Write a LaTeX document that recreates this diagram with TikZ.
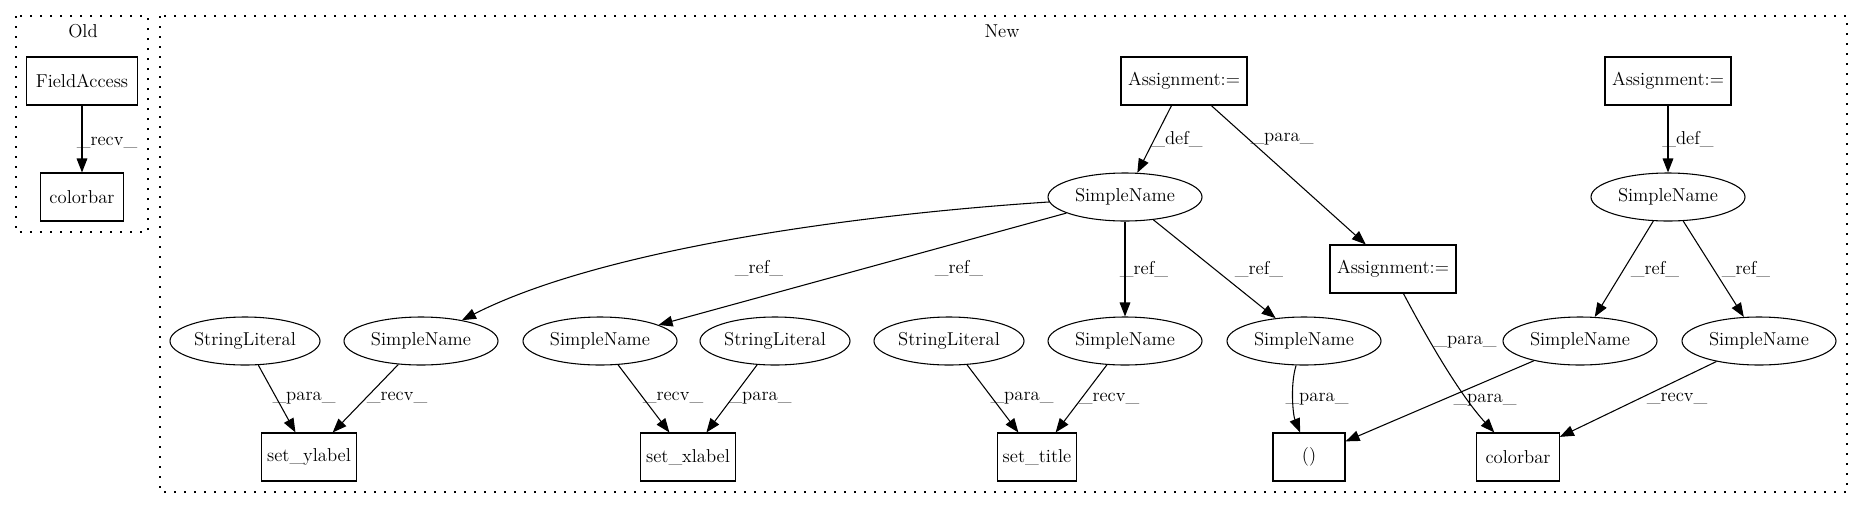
\documentclass[tikz,border=0pt]{standalone}
\usetikzlibrary{arrows.meta,shapes.geometric}
\begin{document}
\begin{tikzpicture}[x=0.75pt,y=-0.75pt,
  font=\rmfamily\fontsize{14}{16}\selectfont,
  box/.style={draw, line width=0.8pt, rectangle, minimum height=36pt, inner sep=0pt},
  oval/.style={draw, line width=0.8pt, ellipse, minimum height=36pt, minimum width=115.5pt, inner sep=0pt},
  sloval/.style={oval, minimum width=112.5pt},
  conn/.style={-{Triangle[length=10.5pt,width=8pt]}, line width=0.8pt},
  lab/.style={inner sep=0pt},
  cluster/.style={line width=1.1pt, dash pattern=on 1.3pt off 6.2pt}]
\useasboundingbox (0,0) rectangle (1863,508);
% clusters
\draw[cluster] (16,16) rectangle (148,232);
\draw[cluster] (160,16) rectangle (1847,492);
\node[lab] (oldlab) at (83,31) {Old};
\node[lab] (newlab) at (1002,31) {New};
% Old
\node[box, minimum width=83pt] (fa) at (82,81) {FieldAccess};
\node[box, minimum width=62pt] (cbold) at (82,197) {colorbar};
% New row 1
\node[box, minimum width=94.5pt] (a1) at (1184,81) {Assignment:=};
\node[box, minimum width=94.5pt] (a3) at (1668,81) {Assignment:=};
% row 2
\node[oval] (snm) at (1125,197) {SimpleName};
\node[oval] (snr) at (1668,197) {SimpleName};
\node[box, minimum width=94.5pt] (a2) at (1393,269) {Assignment:=};
% row 3
\node[sloval] (sl1) at (245,341) {StringLiteral};
\node[oval] (sna) at (421,341) {SimpleName};
\node[oval] (snb) at (600,341) {SimpleName};
\node[sloval] (sl2) at (775,341) {StringLiteral};
\node[sloval] (sl3) at (949,341) {StringLiteral};
\node[oval] (snc) at (1125,341) {SimpleName};
\node[oval] (snd) at (1304,341) {SimpleName};
\node[oval] (sne) at (1580,341) {SimpleName};
\node[oval] (snf) at (1759,341) {SimpleName};
% row 4
\node[box, minimum width=71pt] (sety) at (309,457) {set\_ylabel};
\node[box, minimum width=71pt] (setx) at (688,457) {set\_xlabel};
\node[box, minimum width=59pt] (sett) at (1037,457) {set\_title};
\node[box, minimum width=54pt] (paren) at (1309,457) {()};
\node[box, minimum width=62pt] (cbnew) at (1518,457) {colorbar};
% edges
\draw[conn] (fa) -- (cbold);
\draw[conn] (a1) -- (snm);
\draw[conn] (a1) -- (a2);
\draw[conn] (a3) -- (snr);
\draw[conn] (snm) .. controls (850,215) and (600,250) .. (sna);
\draw[conn] (snm) -- (snb);
\draw[conn] (snm) -- (snc);
\draw[conn] (snm) -- (snd);
\draw[conn] (snr) -- (sne);
\draw[conn] (snr) -- (snf);
\draw[conn] (sl1) -- (sety);
\draw[conn] (sna) -- (sety);
\draw[conn] (snb) -- (setx);
\draw[conn] (sl2) -- (setx);
\draw[conn] (sl3) -- (sett);
\draw[conn] (snc) -- (sett);
\draw[conn] (snd.252) .. controls (1290,385) and (1293,415) .. (paren.110);
\draw[conn] (sne) -- (paren);
\draw[conn] (a2.293) .. controls (1428,340) and (1460,395) .. (cbnew.134);
\draw[conn] (snf) -- (cbnew);
% edge labels
\node[lab] (l1) at (107,143) {\_recv\_};
\node[lab] (l2) at (1177,139) {\_def\_};
\node[lab] (l3) at (1282,139) {\_para\_};
\node[lab] (l4) at (1688,139) {\_def\_};
\node[lab] (l5) at (759,268) {\_ref\_};
\node[lab] (l6) at (959,268) {\_ref\_};
\node[lab] (l7) at (1144,269) {\_ref\_};
\node[lab] (l8) at (1259,269) {\_ref\_};
\node[lab] (l9) at (1655,269) {\_ref\_};
\node[lab] (l10) at (1746,269) {\_ref\_};
\node[lab] (l11) at (1465,342) {\_para\_};
\node[lab] (l12) at (304,398) {\_para\_};
\node[lab] (l13) at (397,398) {\_recv\_};
\node[lab] (l14) at (673,398) {\_recv\_};
\node[lab] (l15) at (760,398) {\_para\_};
\node[lab] (l16) at (1022,398) {\_para\_};
\node[lab] (l17) at (1109,399) {\_recv\_};
\node[lab] (l18) at (1317,399) {\_para\_};
\node[lab] (l19) at (1485,400) {\_para\_};
\node[lab] (l20) at (1677,399) {\_recv\_};
\end{tikzpicture}
\end{document}
